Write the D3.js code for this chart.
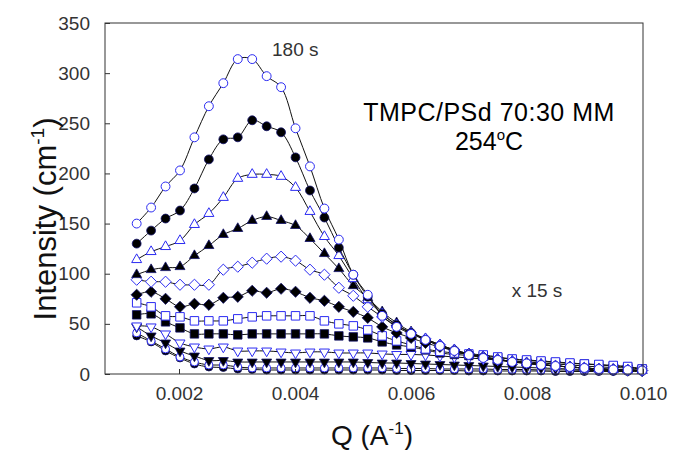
<!DOCTYPE html>
<html>
<head>
<meta charset="utf-8">
<script src="https://cdn.jsdelivr.net/npm/d3@7"></script>
<style>
body { margin: 0; background: #fff; }
text { font-family: Arial, "Liberation Sans", sans-serif; }
</style>
</head>
<body>
<div id="wrapper"></div>
<script>
// Q values (A^-1)
const qValues = [0.00127, 0.001519, 0.001768, 0.002017, 0.002266, 0.002515, 0.002764, 0.003013, 0.003262, 0.003511,
    0.00376, 0.004009, 0.004258, 0.004507, 0.004756, 0.005005, 0.005254, 0.005503, 0.005752, 0.006001,
    0.00625, 0.006499, 0.006748, 0.006997, 0.007246, 0.007495, 0.007744, 0.007993, 0.008242, 0.008491,
    0.00874, 0.008989, 0.009238, 0.009487, 0.009736, 0.009985]

// intensity (cm^-1), one array per time
const int15s = [38, 32, 23, 16, 10, 7, 6.5, 5, 4.5, 4, 4, 4, 4, 4, 4, 4, 4, 4, 3.5, 3.5, 3.5, 3.5, 3.5, 3, 3, 3, 3, 3, 3, 2.5, 2.5, 2.5, 2.5, 2.5, 2.5, 2.5]
const int30s = [41, 33, 25, 17, 12, 9, 9, 7, 6, 6, 6, 6, 6, 6, 6, 6, 6, 6, 5.5, 5.5, 5.5, 5, 5, 5, 5, 4.5, 4.5, 4.5, 4, 4, 4, 3.5, 3.5, 3.5, 3, 3]
const int45s = [47, 38, 31, 23, 18, 13.5, 13.5, 12, 12, 12, 12, 12, 12, 12, 12, 12, 11.5, 11, 11, 10.5, 10, 9.5, 9, 8.5, 8, 7.5, 7, 6.5, 6, 5.5, 5, 4.5, 4.5, 4, 3.5, 3]
const int60s = [48, 47, 40, 31, 27, 25, 27, 23, 23, 23, 22, 21, 22, 22, 21, 21, 21, 20, 19.5, 19.5, 19, 18, 17, 16, 15, 14, 13, 12, 11, 10, 9, 8, 7, 6.5, 6, 5]
const int75s = [59, 60, 52, 46, 40, 40, 40, 39, 40, 40, 40, 40, 40, 40, 38, 37, 36, 32, 29, 27, 24, 21, 19.5, 18.5, 18, 16.5, 14.5, 13.5, 12.5, 11.5, 10.5, 10, 9, 8, 7, 5]
const int90s = [71, 67, 58, 57, 53, 53, 53, 55, 57, 58, 58, 58, 58, 53, 50, 48, 44, 38, 33, 29, 25, 22.5, 21, 20, 19, 17, 15, 14, 13, 12, 11, 10, 9.5, 8.5, 7.5, 5]
const int105s = [79, 82, 75, 67, 70, 69, 76, 77, 83, 81, 85, 82, 76, 73, 67, 62, 56, 47, 41, 36, 31, 27, 23, 20, 17, 14.5, 12.5, 11, 9.5, 8, 7, 6, 5, 4.5, 4, 3.5]
const int120s = [94, 92, 92, 89, 89, 89, 104, 107, 111, 115, 117, 113, 104, 99, 86, 78, 67, 57, 48, 41, 35, 29, 24, 20, 17, 14.5, 12.5, 11, 9.5, 8, 7, 6, 5, 4.5, 4, 3.5]
const int135s = [99, 104, 106, 107, 118, 128, 139, 145, 153, 157, 153, 148, 135, 120, 105, 88, 76, 62, 51, 42, 35, 29, 24, 20, 17, 14.5, 12.5, 11, 9.5, 8, 7, 6, 5, 4.5, 4, 3.5]
const int150s = [114, 122, 127, 133, 149, 160, 176, 195, 199, 199, 197, 186, 162, 137, 118, 95, 74, 60, 49, 41, 35, 29, 24, 20, 17, 14.5, 12.5, 11, 9.5, 8, 7, 6, 5, 4.5, 4, 3.5]
const int165s = [130, 143, 155, 163, 185, 214, 234, 236, 253, 247, 241, 216, 183, 156, 126, 99, 77, 60, 49, 41, 34, 28, 23.5, 19.5, 16.5, 14, 12, 10.5, 9, 8, 7, 6, 5, 4.5, 4, 3.5]
const int180s = [150, 166, 187, 203, 236, 267, 290, 314, 314, 297, 286, 245, 207, 165, 134, 99, 79, 58, 47, 40, 34, 28, 23, 19, 16, 14, 12, 10.5, 9, 8, 7, 6, 5, 4.5, 4, 3.5]

const xTicks = [0.002, 0.004, 0.006, 0.008, 0.010]
const yTicks = [0, 50, 100, 150, 200, 250, 300, 350]

function drawScatteringChart() {
    let dimensions = {
        width: 677,
        height: 450,
        margin: {
            top: 23,
            right: 34,
            bottom: 76,
            left: 105
        }
    }
    dimensions.boundedWidth = dimensions.width - dimensions.margin.left - dimensions.margin.right
    dimensions.boundedHeight = dimensions.height - dimensions.margin.top - dimensions.margin.bottom

    let root = d3.select("#wrapper")
        .append("svg")
        .attr("width", dimensions.width)
        .attr("height", dimensions.height)

    let svg = root.append("g")
        .attr("transform", "translate(" + dimensions.margin.left + "," + dimensions.margin.top + ")")

    let x = d3.scaleLinear()
        .domain([0.000724, 0.010])
        .range([0, dimensions.boundedWidth])

    let y = d3.scaleLinear()
        .domain([0, 350])
        .range([dimensions.boundedHeight, 0])

    // marker shapes
    let tri = "M0,-5.8L5,2.9L-5,2.9Z"
    let triDown = "M0,5.8L5,-2.9L-5,-2.9Z"
    let diamond = "M0,-5.6L5.6,0L0,5.6L-5.6,0Z"
    let circle = d3.symbol(d3.symbolCircle, 62)()
    let smallCircle = d3.symbol(d3.symbolCircle, 50)()
    let square = d3.symbol(d3.symbolSquare, 72)()

    let series = [
        { values: int15s, shape: smallCircle, filled: true },
        { values: int30s, shape: smallCircle, filled: false },
        { values: int45s, shape: triDown, filled: true },
        { values: int60s, shape: triDown, filled: false },
        { values: int75s, shape: square, filled: true },
        { values: int90s, shape: square, filled: false },
        { values: int105s, shape: diamond, filled: true },
        { values: int120s, shape: diamond, filled: false },
        { values: int135s, shape: tri, filled: true },
        { values: int150s, shape: tri, filled: false },
        { values: int165s, shape: circle, filled: true },
        { values: int180s, shape: circle, filled: false }
    ]

    let line = d3.line()
        .x((d, i) => x(qValues[i]))
        .y(d => y(d))
        .curve(d3.curveCatmullRom)

    series.forEach(s => {
        svg.append("path")
            .datum(s.values)
            .attr("fill", "none")
            .attr("stroke", "#111")
            .attr("stroke-width", 1)
            .attr("d", line)

        svg.append("g")
            .selectAll("path")
            .data(s.values)
            .enter()
            .append("path")
            .attr("d", s.shape)
            .attr("transform", (d, i) => "translate(" + x(qValues[i]) + "," + y(d) + ")")
            .attr("fill", s.filled ? "#000" : "#fff")
            .attr("stroke", s.filled ? "#10106a" : "#2b2bf2")
            .attr("stroke-width", s.filled ? 0.8 : 1)
    })

    // axes, ticks point inward
    let xAxis = svg.append("g")
        .attr("transform", "translate(0," + dimensions.boundedHeight + ")")
        .call(d3.axisBottom(x)
            .tickValues(xTicks)
            .tickFormat(d3.format(".3f"))
            .tickSizeInner(-5)
            .tickSizeOuter(0)
            .tickPadding(13))
    let yAxis = svg.append("g")
        .call(d3.axisLeft(y)
            .tickValues(yTicks)
            .tickSizeInner(-5)
            .tickSizeOuter(0)
            .tickPadding(15))

    ;[xAxis, yAxis].forEach(a => {
        a.select(".domain").remove()
        a.selectAll("line").attr("stroke", "#333")
        a.selectAll("text")
            .attr("fill", "#333")
            .style("font-size", "19px")
            .style("font-family", "Arial, 'Liberation Sans', sans-serif")
    })

    // frame
    svg.append("rect")
        .attr("width", dimensions.boundedWidth)
        .attr("height", dimensions.boundedHeight)
        .attr("fill", "none")
        .attr("stroke", "#333")
        .attr("stroke-width", 1)

    // axis titles
    let yTitle = root.append("text")
        .attr("transform", "translate(56,219) rotate(-90)")
        .attr("text-anchor", "middle")
        .style("font-size", "31px")
        .attr("fill", "#111")
    yTitle.append("tspan").text("Intensity (cm")
    yTitle.append("tspan").attr("dy", -12).style("font-size", "19px").text("-1")
    yTitle.append("tspan").attr("dy", 12).text(")")

    let xTitle = root.append("text")
        .attr("x", 372)
        .attr("y", 445)
        .attr("text-anchor", "middle")
        .style("font-size", "28px")
        .attr("fill", "#111")
    xTitle.append("tspan").text("Q (A")
    xTitle.append("tspan").attr("dy", -11).style("font-size", "17px").text("-1")
    xTitle.append("tspan").attr("dy", 11).text(")")

    // annotations
    root.append("text")
        .attr("x", 272)
        .attr("y", 56)
        .style("font-size", "19px")
        .attr("fill", "#333")
        .text("180 s")

    root.append("text")
        .attr("x", 537)
        .attr("y", 297)
        .attr("text-anchor", "middle")
        .style("font-size", "19px")
        .attr("fill", "#333")
        .text("x 15 s")

    root.append("text")
        .attr("x", 489)
        .attr("y", 121)
        .attr("text-anchor", "middle")
        .style("font-size", "25px")
        .style("letter-spacing", "0.5px")
        .attr("fill", "#000")
        .text("TMPC/PSd 70:30 MM")

    let temp = root.append("text")
        .attr("x", 489)
        .attr("y", 150)
        .attr("text-anchor", "middle")
        .style("font-size", "25px")
        .attr("fill", "#000")
    temp.append("tspan").text("254")
    temp.append("tspan").attr("dy", -10).style("font-size", "15px").text("o")
    temp.append("tspan").attr("dy", 10).text("C")
}

drawScatteringChart();
</script>
</body>
</html>
